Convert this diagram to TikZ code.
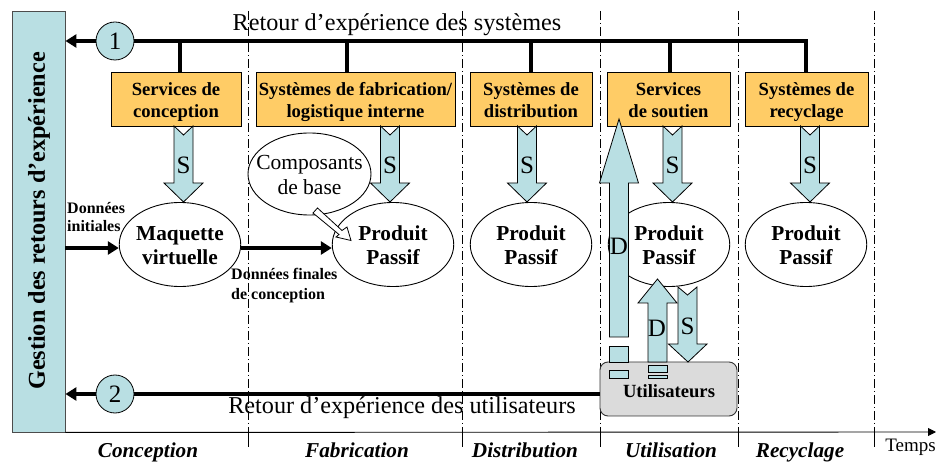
\documentclass[tikz,border=0pt]{standalone}
\usepackage{fontspec}
\setmainfont{Liberation Serif}
\usetikzlibrary{arrows.meta,shapes.geometric}
\definecolor{teal1}{HTML}{B9DFE3}
\definecolor{orange1}{HTML}{FFCC66}
\definecolor{grey1}{HTML}{DBDBDB}
\newcommand{\fs}[1]{\fontsize{#1}{#1}\selectfont}
% two lines with a fixed baseline distance, whatever their letters
\newcommand{\boxlines}[2]{\rule{0pt}{20.2pt}#1\\[3.4pt]#2\rule[-5.58pt]{0pt}{5.58pt}}
\newcommand{\bloblines}[2]{\rule{0pt}{22.5pt}#1\\[3.5pt]#2\rule[-6.45pt]{0pt}{6.45pt}}
\newcommand{\blockdown}[3]{% x, ytop, ytip: notched block arrow pointing down
  \draw[blockarrow] (#1-9.5,#2) -- (#1,#2+9) -- (#1+9.5,#2) -- (#1+9.5,#3-19) -- (#1+19.5,#3-19)
    -- (#1,#3) -- (#1-19.5,#3-19) -- (#1-9.5,#3-19) -- cycle;}
\tikzset{
  blockarrow/.style={draw=black,fill=teal1,line width=0.8pt,line join=miter},
  servicebox/.style={draw=black,fill=orange1,line width=0.9pt,minimum height=54pt,inner sep=0pt,align=center,font=\fs{18.6}\bfseries},
  blob/.style={draw=black,fill=white,line width=0.9pt,shape=ellipse,inner ysep=0pt,inner xsep=-10pt,minimum width=121.5pt,minimum height=84pt,font=\fs{21.3}\bfseries,align=center},
  num/.style={shape=circle,draw=black,fill=teal1,line width=0.8pt,minimum size=38pt,inner sep=0pt,font=\fs{25}},
  feedback/.style={line width=3.8pt,draw=black},
  feedarrow/.style={line width=3.8pt,draw=black,-{Triangle[length=11pt,width=13pt]}},
  phase/.style={draw=black,line width=0.7pt,dash pattern=on 9pt off 3pt on 1pt off 3pt},
  phaseend/.style={draw=black,line width=0.8pt},
  phasename/.style={font=\fs{21.2}\bfseries\itshape,inner sep=0pt,anchor=base},
  smalllabel/.style={font=\fs{16}\bfseries,align=left,inner sep=0pt,anchor=west},
  letter/.style={font=\fs{25},inner sep=0pt},
  headline/.style={font=\fs{24.2},inner sep=0pt,anchor=base}
}
\begin{document}
\begin{tikzpicture}[x=1pt,y=-1pt]
\useasboundingbox (0,0) rectangle (938,462);
% phase separators
\foreach \x/\n in {248/a,462/b,600/c,738/d,874/e}{
  \coordinate (top\n) at (\x,11);
  \coordinate (mid\n) at (\x,432);
  \coordinate (bot\n) at (\x,447);
  \draw[phase] (top\n) -- (mid\n);
  \draw[phaseend] (mid\n) -- (bot\n);
}
% side bar
\node[draw=black!70,fill=teal1,line width=0.9pt,minimum width=53pt,minimum height=421pt,inner sep=0pt] (bar) at (38.5,221.5) {};
\node[rotate=90,font=\fs{24.2}\bfseries,inner sep=0pt] (bartext) at (39,221) {Gestion des retours d’expérience};
% time axis
\coordinate (axisend) at (936,432);
\draw[black,line width=0.9pt,-{Triangle[length=8pt,width=8pt]}] (bar.south east) -- (axisend);
% service boxes
\node[servicebox,minimum width=130pt] (s1) at (176,99) {\boxlines{Services de}{conception}};
\node[servicebox,minimum width=199pt] (s2) at (355.5,99) {\boxlines{Systèmes de fabrication/}{logistique interne}};
\node[servicebox,minimum width=122pt] (s3) at (531,99) {\boxlines{Systèmes de}{distribution}};
\node[servicebox,minimum width=123pt] (s4) at (668.5,99) {\boxlines{Services}{de soutien}};
\node[servicebox,minimum width=123pt] (s5) at (806.5,99) {\boxlines{Systèmes de}{recyclage}};
% top feedback
\coordinate (fbstart) at (806,41);
\coordinate (d1) at (180,41); \coordinate (d2) at (347,41); \coordinate (d3) at (531,41);
\coordinate (d4) at (670,41); \coordinate (d5) at (806,39.1);
\coordinate (barTop) at (bar.east |- fbstart);
\coordinate (barLow) at (bar.east |- 0,394);
\coordinate (barMid) at (bar.east |- 0,248);
\draw[feedarrow] (fbstart) -- (barTop);
\draw[feedback] (d1) -- (d1 |- s1.north);
\draw[feedback] (d2) -- (d2 |- s2.north);
\draw[feedback] (d3) -- (d3 |- s3.north);
\draw[feedback] (d4) -- (d4 |- s4.north);
\draw[feedback] (d5) -- (d5 |- s5.north);
\node[num] (n1) at (115,41) {1};
\node[headline] (retour1) at (397,31) {Retour d’expérience des systèmes};
% S arrows
\blockdown{183.5}{126}{202}
\blockdown{390}{126}{202}
\blockdown{527}{126}{202}
\blockdown{672.5}{126}{202}
\blockdown{810}{126}{202}
\node[letter] at (183.5,165) (ls1) {S};
\node[letter] at (390,165) (ls2) {S};
\node[letter] at (527,165) (ls3) {S};
\node[letter] at (672.5,165) (ls4) {S};
\node[letter] at (810,165) (ls5) {S};
% ellipses
\node[blob,minimum width=123pt,minimum height=82pt,font=\fs{21.5}] (comp) at (309.5,174) {\bloblines{Composants}{de base}};
\node[blob] (mq) at (180,244.5) {\bloblines{Maquette}{virtuelle}};
\node[blob] (p2) at (393,244.5) {\bloblines{Produit}{Passif}};
\node[blob] (p3) at (531,244.5) {\bloblines{Produit}{Passif}};
\node[blob] (p4) at (669,244.5) {\bloblines{Produit}{Passif}};
\node[blob] (p5) at (806,244.5) {\bloblines{Produit}{Passif}};
% data flows
\draw[feedarrow] (barMid) -- (mq.west |- barMid);
\draw[feedarrow] (mq.east |- barMid) -- (p2.west |- barMid);
\node[smalllabel] (l1) at (67,217) {Données\\[2.5pt]initiales};
\node[smalllabel] (l2) at (231,286) {Données finales\\[4pt]de conception};
% white arrow from the components to the product
\draw[draw=black,fill=white,line width=0.8pt] (313,213) -- (317.5,208) -- (342,230.5) -- (347,227) -- (351,240.5) -- (336,237) -- (339,234.5) -- cycle;
% users box
\node[draw=black!80,fill=grey1,line width=0.9pt,rounded corners=8pt,minimum width=137pt,minimum height=54pt,inner sep=0pt] (users) at (668.5,389) {};
\node[font=\fs{18.6}\bfseries,inner sep=0pt] (userstext) at (669,391) {Utilisateurs};
% bottom feedback
\coordinate (ustart) at (users.west |- 0,394);
\draw[feedarrow] (ustart) -- (barLow);
\node[num] (n2) at (115,394) {2};
\node[headline] (retour2) at (402,414) {Retour d’expérience des utilisateurs};
% big D arrow with fragments
\draw[blockarrow] (609.5,337) -- (628.5,337) -- (628.5,183) -- (638.5,183) -- (619,119) -- (599.5,183) -- (609.5,183) -- cycle;
\draw[blockarrow] (609.5,346) rectangle (628.5,362.5);
\draw[blockarrow] (609.5,370) rectangle (628.5,378);
\node[letter] (ld1) at (619,246) {D};
% small D arrow with fragments
\draw[blockarrow] (648,362) -- (667,362) -- (667,303) -- (677,303) -- (657.5,279) -- (638,303) -- (648,303) -- cycle;
\draw[blockarrow] (648,365.5) rectangle (667,372);
\draw[blockarrow] (648,375) rectangle (667,378.5);
\node[letter] (ld2) at (657,328) {D};
% small S arrow
\draw[blockarrow] (678,287) -- (687.5,295) -- (697,287) -- (697,344) -- (707,344) -- (688,362) -- (668.5,344) -- (678,344) -- cycle;
\node[letter] (ls6) at (687.5,326) {S};
% phase names
\node[phasename] (ph1) at (148,458) {Conception};
\node[phasename] (ph2) at (357,458) {Fabrication};
\node[phasename] (ph3) at (525,458) {Distribution};
\node[phasename] (ph4) at (671,458) {Utilisation};
\node[phasename] (ph5) at (800,458) {Recyclage};
\node[font=\fs{19},inner sep=0pt,anchor=base] (temps) at (910.5,452) {Temps};
\end{tikzpicture}
\end{document}
